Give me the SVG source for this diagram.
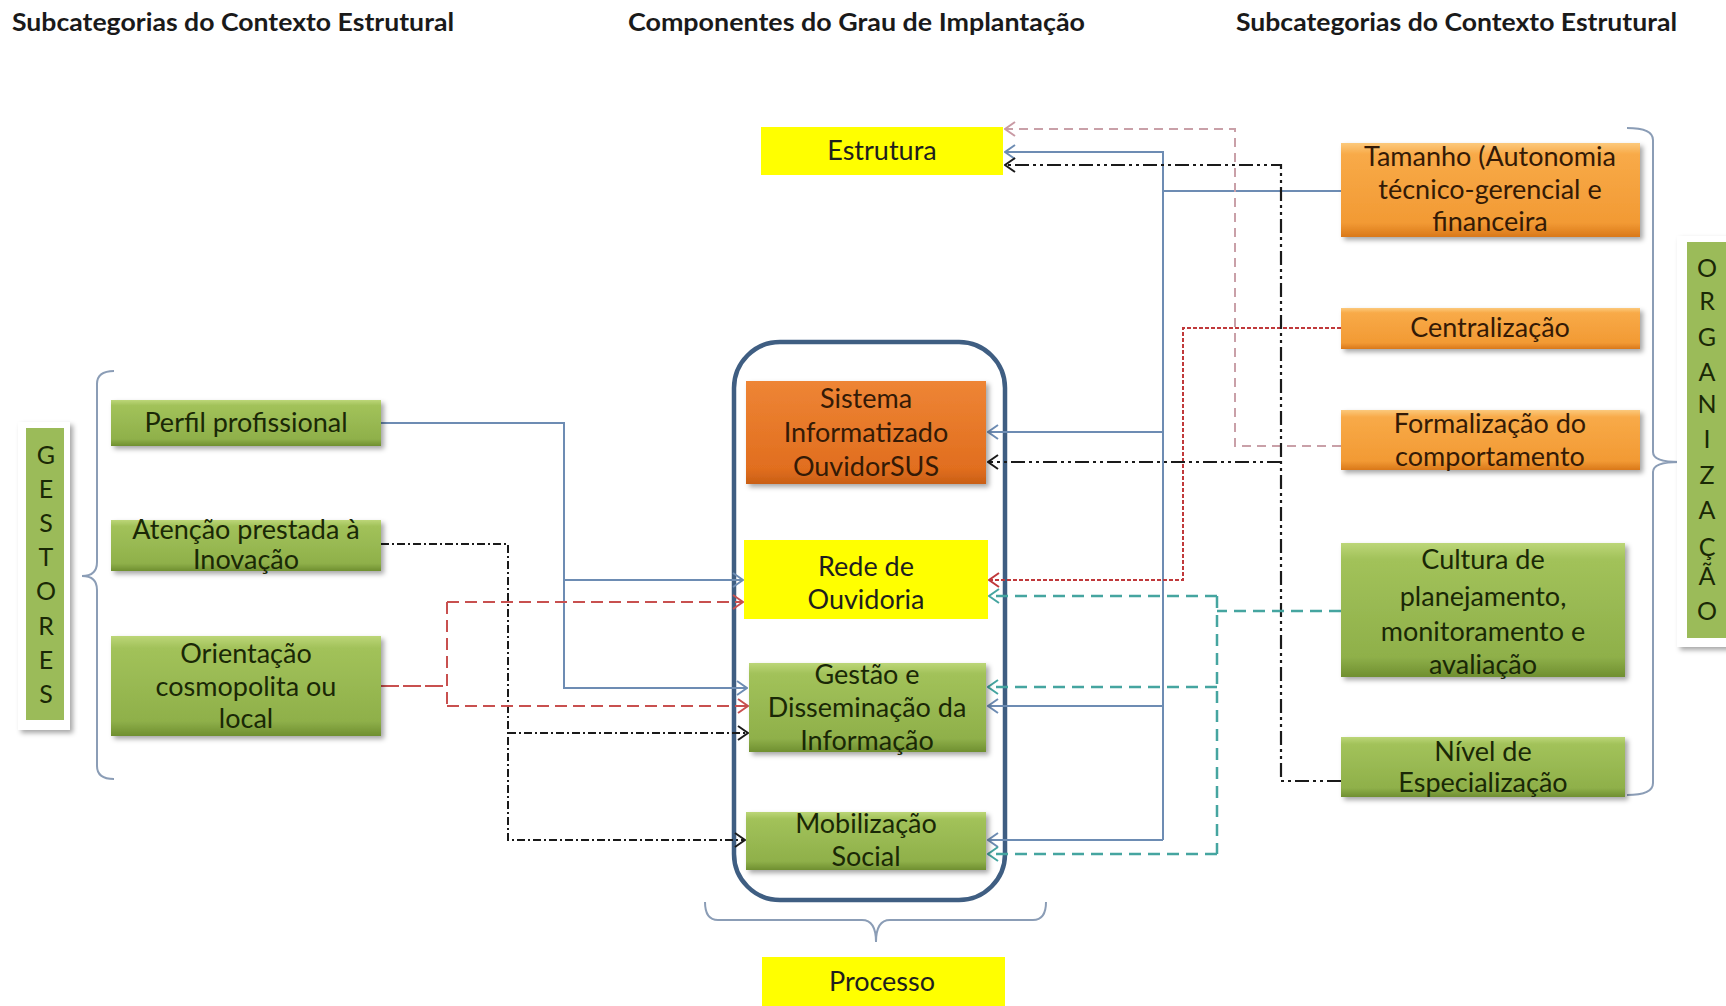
<svg xmlns="http://www.w3.org/2000/svg" width="1726" height="1006" viewBox="0 0 1726 1006">
<style>
.title{font-family:Lato,"Liberation Sans",sans-serif;font-weight:bold;font-size:24px;fill:#1a1a1a}
.nt{font-family:Lato,"Liberation Sans",sans-serif;font-size:27px;text-anchor:middle;fill:#1e1e1e}
.nto{font-family:Lato,"Liberation Sans",sans-serif;font-size:27px;text-anchor:middle;fill:#341a06}
.ntg{font-family:Lato,"Liberation Sans",sans-serif;font-size:27px;text-anchor:middle;fill:#1a2806}
.vl{font-family:Lato,"Liberation Sans",sans-serif;font-size:25px;text-anchor:middle;fill:#1a2806}
.brace{fill:none;stroke:#8b9db6;stroke-width:2}
.c{fill:none}
.blue{stroke:#6d8cb3;stroke-width:2}
.red{stroke:#c0393b;stroke-width:2;stroke-dasharray:4 2}
.pink{stroke:#c9a0a8;stroke-width:2;stroke-dasharray:9 6}
.blkR{stroke:#1a1a1a;stroke-width:2.2;stroke-dasharray:14 4 3 4 3 4}
.blkL{stroke:#1a1a1a;stroke-width:2;stroke-dasharray:8 3 2 3}
.teal{stroke:#45a5a0;stroke-width:2.5;stroke-dasharray:12 7}
.red2{stroke:#c8504f;stroke-width:2;stroke-dasharray:12 6}
</style>
<defs>
<linearGradient id="gOr" x1="0" y1="0" x2="0" y2="1">
<stop offset="0" stop-color="#fcc97c"/><stop offset="0.12" stop-color="#f8aa48"/><stop offset="0.85" stop-color="#f29a34"/><stop offset="1" stop-color="#d9781a"/>
</linearGradient>
<linearGradient id="gSys" x1="0" y1="0" x2="0" y2="1">
<stop offset="0" stop-color="#ee8535"/><stop offset="0.85" stop-color="#e16e1f"/><stop offset="1" stop-color="#c95f16"/>
</linearGradient>
<linearGradient id="gGr" x1="0" y1="0" x2="0" y2="1">
<stop offset="0" stop-color="#bcd678"/><stop offset="0.12" stop-color="#a2c25a"/><stop offset="0.85" stop-color="#8fb04a"/><stop offset="1" stop-color="#6f8f30"/>
</linearGradient>
<filter id="sh" x="-10%" y="-10%" width="125%" height="135%">
<feDropShadow dx="3" dy="3" stdDeviation="2.5" flood-color="#000" flood-opacity="0.35"/>
</filter>
<marker id="mBlue" viewBox="0 0 12 16" refX="11" refY="8" markerWidth="12" markerHeight="16" markerUnits="userSpaceOnUse" orient="auto"><path d="M1,1 L11,8 L1,15" fill="none" stroke="#6d8cb3" stroke-width="2"/></marker>
<marker id="mRed" viewBox="0 0 12 16" refX="11" refY="8" markerWidth="12" markerHeight="16" markerUnits="userSpaceOnUse" orient="auto"><path d="M1,1 L11,8 L1,15" fill="none" stroke="#c0393b" stroke-width="2"/></marker>
<marker id="mPink" viewBox="0 0 12 16" refX="11" refY="8" markerWidth="12" markerHeight="16" markerUnits="userSpaceOnUse" orient="auto"><path d="M1,1 L11,8 L1,15" fill="none" stroke="#c99aa4" stroke-width="2"/></marker>
<marker id="mBlk" viewBox="0 0 12 16" refX="11" refY="8" markerWidth="12" markerHeight="16" markerUnits="userSpaceOnUse" orient="auto"><path d="M1,1 L11,8 L1,15" fill="none" stroke="#1a1a1a" stroke-width="2"/></marker>
<marker id="mTeal" viewBox="0 0 12 16" refX="11" refY="8" markerWidth="12" markerHeight="16" markerUnits="userSpaceOnUse" orient="auto"><path d="M1,1 L11,8 L1,15" fill="none" stroke="#45a5a0" stroke-width="2"/></marker>
<marker id="mRed2" viewBox="0 0 12 16" refX="11" refY="8" markerWidth="12" markerHeight="16" markerUnits="userSpaceOnUse" orient="auto"><path d="M1,1 L11,8 L1,15" fill="none" stroke="#c8504f" stroke-width="2"/></marker>
</defs>
<rect width="1726" height="1006" fill="#fff"/>

<g id="titles">
<text class="title" x="12" y="31" textLength="442" lengthAdjust="spacingAndGlyphs">Subcategorias do Contexto Estrutural</text>
<text class="title" x="628" y="31" textLength="457" lengthAdjust="spacingAndGlyphs">Componentes do Grau de Implantação</text>
<text class="title" x="1236" y="31" textLength="441" lengthAdjust="spacingAndGlyphs">Subcategorias do Contexto Estrutural</text>
</g>

<g id="braces">
<path class="brace" d="M114,371 Q97,371 97,384 V562 Q97,576 82,576 Q97,576 97,590 V766 Q97,779 114,779"/>
<path class="brace" d="M1627,128 Q1653,128 1653,140 V452 Q1653,462 1679,462 Q1653,462 1653,472 V783 Q1653,795 1627,795"/>
<path class="brace" d="M705,902 Q705,920 718,920 H862 Q876,920 876,942 Q876,920 890,920 H1033 Q1046,920 1046,902"/>
</g>

<g id="container">
<rect x="734" y="342" width="271" height="558" rx="46" ry="46" fill="none" stroke="#3f5e82" stroke-width="4.5"/>
</g>

<g id="connectors">
<path class="c blue" d="M1341,191 H1163 V840"/>
<path class="c blue" d="M1163,191 V152 H1005" marker-end="url(#mBlue)"/>
<path class="c blue" d="M1163,432 H988" marker-end="url(#mBlue)"/>
<path class="c blue" d="M1163,706 H988" marker-end="url(#mBlue)"/>
<path class="c blue" d="M1163,840 H988" marker-end="url(#mBlue)"/>
<path class="c red" d="M1341,328 H1183 V580 H989" marker-end="url(#mRed)"/>
<path class="c pink" d="M1341,446 H1235 V129 H1005" marker-end="url(#mPink)"/>
<path class="c blkR" d="M1341,781 H1281 V165 H1005" marker-end="url(#mBlk)"/>
<path class="c blkR" d="M1281,462 H988" marker-end="url(#mBlk)"/>
<path class="c teal" d="M1341,611 H1217"/>
<path class="c teal" d="M1217,596 V854"/>
<path class="c teal" d="M1217,596 H989" marker-end="url(#mTeal)"/>
<path class="c teal" d="M1217,687 H988" marker-end="url(#mTeal)"/>
<path class="c teal" d="M1217,854 H988" marker-end="url(#mTeal)"/>
<path class="c blue" d="M381,423 H564 V688 H747" marker-end="url(#mBlue)"/>
<path class="c blue" d="M564,580 H743" marker-end="url(#mBlue)"/>
<path class="c blkL" d="M381,544 H508 V840 H745" marker-end="url(#mBlk)"/>
<path class="c blkL" d="M508,733 H748" marker-end="url(#mBlk)"/>
<path class="c" stroke="#c8504f" stroke-width="2" stroke-dasharray="18 4" d="M381,686 H447"/>
<path class="c red2" d="M447,602 V706"/>
<path class="c red2" d="M447,602 H743" marker-end="url(#mRed2)"/>
<path class="c red2" d="M447,706 H748" marker-end="url(#mRed2)"/>
</g>

<g id="gestores">
<rect x="18" y="422" width="52" height="308" fill="#fff" filter="url(#sh)"/>
<rect x="26" y="428" width="38" height="292" fill="#9bbb59"/>
<text class="vl" x="46" y="464">G</text>
<text class="vl" x="46" y="498">E</text>
<text class="vl" x="46" y="532">S</text>
<text class="vl" x="46" y="566">T</text>
<text class="vl" x="46" y="600">O</text>
<text class="vl" x="46" y="635">R</text>
<text class="vl" x="46" y="669">E</text>
<text class="vl" x="46" y="703">S</text>
</g>

<g id="organizacao">
<rect x="1677" y="236" width="60" height="411" fill="#fff" filter="url(#sh)"/>
<rect x="1687" y="242" width="45" height="396" fill="#9bbb59"/>
<text class="vl" x="1707" y="277">O</text>
<text class="vl" x="1707" y="310">R</text>
<text class="vl" x="1707" y="346">G</text>
<text class="vl" x="1707" y="381">A</text>
<text class="vl" x="1707" y="413">N</text>
<text class="vl" x="1707" y="448">I</text>
<text class="vl" x="1707" y="484">Z</text>
<text class="vl" x="1707" y="519">A</text>
<text class="vl" x="1707" y="556">Ç</text>
<text class="vl" x="1707" y="585">Ã</text>
<text class="vl" x="1707" y="620">O</text>
</g>

<g id="perfil">
<rect x="111" y="400" width="270" height="46" fill="url(#gGr)" filter="url(#sh)"/>
<text class="ntg" x="246" y="432">Perfil profissional</text>
</g>
<g id="atencao">
<rect x="111" y="520" width="270" height="51" fill="url(#gGr)" filter="url(#sh)"/>
<text class="ntg" x="246" y="539">Atenção prestada à</text>
<text class="ntg" x="246" y="569">Inovação</text>
</g>
<g id="orientacao">
<rect x="111" y="636" width="270" height="100" fill="url(#gGr)" filter="url(#sh)"/>
<text class="ntg" x="246" y="663">Orientação</text>
<text class="ntg" x="246" y="696">cosmopolita ou</text>
<text class="ntg" x="246" y="728">local</text>
</g>

<g id="estrutura">
<rect x="761" y="127" width="242" height="48" fill="#ffff00"/>
<text class="nt" x="882" y="160">Estrutura</text>
</g>
<g id="sistema">
<rect x="746" y="381" width="240" height="103" fill="url(#gSys)" filter="url(#sh)"/>
<text class="nto" x="866" y="408">Sistema</text>
<text class="nto" x="866" y="442">Informatizado</text>
<text class="nto" x="866" y="476">OuvidorSUS</text>
</g>
<g id="rede">
<rect x="744" y="540" width="244" height="79" fill="#ffff00"/>
<text class="nt" x="866" y="576">Rede de</text>
<text class="nt" x="866" y="609">Ouvidoria</text>
</g>
<g id="gestao">
<rect x="749" y="663" width="237" height="89" fill="url(#gGr)" filter="url(#sh)"/>
<text class="ntg" x="867" y="684">Gestão e</text>
<text class="ntg" x="867" y="717">Disseminação da</text>
<text class="ntg" x="867" y="750">Informação</text>
</g>
<g id="mobilizacao">
<rect x="746" y="812" width="240" height="58" fill="url(#gGr)" filter="url(#sh)"/>
<text class="ntg" x="866" y="833">Mobilização</text>
<text class="ntg" x="866" y="866">Social</text>
</g>
<g id="processo">
<rect x="762" y="957" width="243" height="49" fill="#ffff00"/>
<text class="nt" x="882" y="991">Processo</text>
</g>

<g id="tamanho">
<rect x="1341" y="143" width="299" height="94" fill="url(#gOr)" filter="url(#sh)"/>
<text class="nto" x="1490" y="166">Tamanho (Autonomia</text>
<text class="nto" x="1490" y="199">técnico-gerencial e</text>
<text class="nto" x="1490" y="231">financeira</text>
</g>
<g id="centralizacao">
<rect x="1341" y="308" width="299" height="41" fill="url(#gOr)" filter="url(#sh)"/>
<text class="nto" x="1490" y="337">Centralização</text>
</g>
<g id="formalizacao">
<rect x="1341" y="410" width="299" height="60" fill="url(#gOr)" filter="url(#sh)"/>
<text class="nto" x="1490" y="433">Formalização do</text>
<text class="nto" x="1490" y="466">comportamento</text>
</g>
<g id="cultura">
<rect x="1341" y="543" width="284" height="134" fill="url(#gGr)" filter="url(#sh)"/>
<text class="ntg" x="1483" y="569">Cultura de</text>
<text class="ntg" x="1483" y="606">planejamento,</text>
<text class="ntg" x="1483" y="641">monitoramento e</text>
<text class="ntg" x="1483" y="674">avaliação</text>
</g>
<g id="nivel">
<rect x="1341" y="737" width="284" height="60" fill="url(#gGr)" filter="url(#sh)"/>
<text class="ntg" x="1483" y="761">Nível de</text>
<text class="ntg" x="1483" y="792">Especialização</text>
</g>
</svg>
